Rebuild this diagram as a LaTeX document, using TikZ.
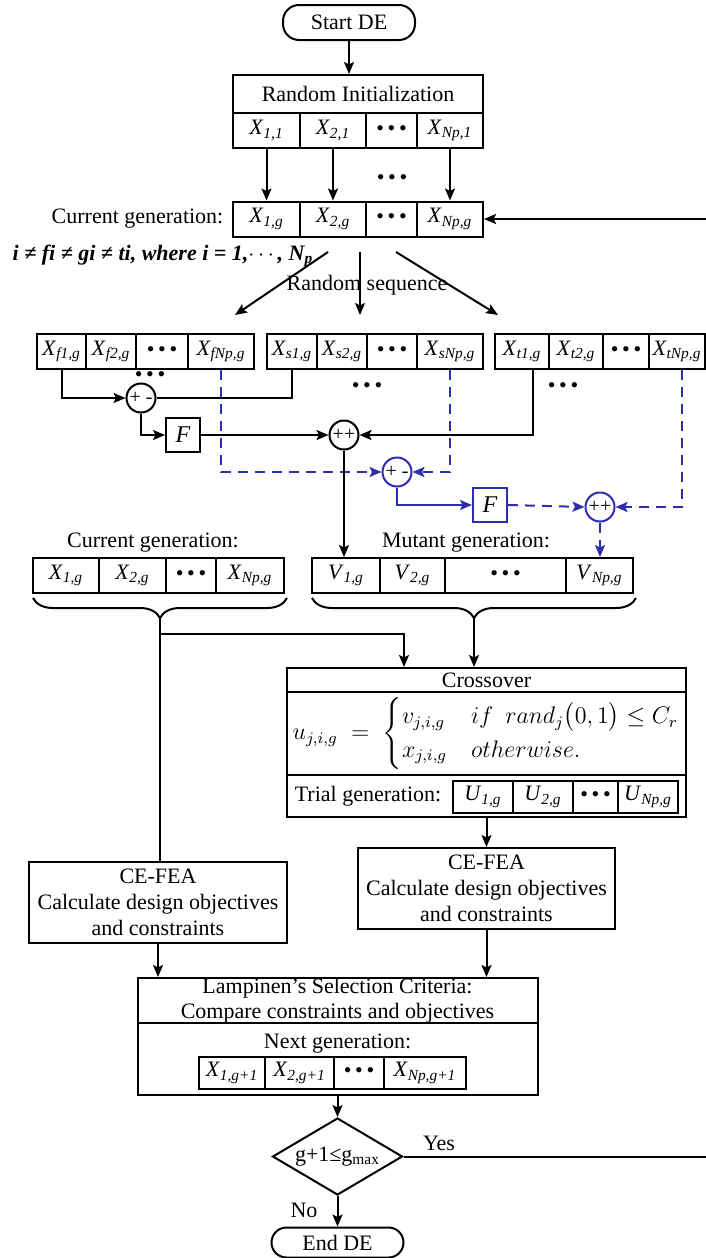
\documentclass[tikz,border=0pt]{standalone}
\usepackage{fontspec}
\setmainfont{Liberation Serif}
\usepackage{amsmath}
\usetikzlibrary{arrows.meta,shapes.geometric,decorations.pathreplacing}
\definecolor{mutblue}{RGB}{45,45,175}
\newcommand{\dotsrow}{\textbullet\,\textbullet\,\textbullet}
\newcommand{\sx}[2]{\textit{#1}\textsubscript{\textit{#2}}}

\begin{document}
\begin{tikzpicture}[
		x=0.5pt, y=-0.5pt, line width=1pt,
		>={Stealth[length=6pt,width=5pt,inset=1.2pt]},
		every node/.style={font=\fontsize{11}{13}\selectfont},
		cell/.style={draw, inner sep=0pt, minimum height=17.5pt},
		block/.style={draw, inner sep=0pt, align=center},
		terminal/.style={draw, rounded corners=8pt, minimum width=66pt, inner sep=0pt},
		adder/.style={draw, circle, minimum size=14.5pt, inner sep=0pt, font=\fontsize{10}{10}\selectfont},
		gain/.style={draw, minimum size=17pt, inner sep=0pt, font=\fontsize{12}{12}\selectfont\itshape},
		decision/.style={draw, diamond, aspect=1.7, minimum width=65pt, minimum height=38.5pt, inner sep=0pt},
		mutline/.style={mutblue, dash pattern=on 5pt off 3.5pt},
		groupbrace/.style={decorate, decoration={brace, mirror, amplitude=10pt}}
		]
		\useasboundingbox (0,0) rectangle (706,1258);
		
		% Start and random initialization
		\node[terminal, minimum height=17.5pt] (start) at (349,22.5) {Start DE};
		\node[block, minimum width=125pt, minimum height=19pt] (init) at (358,94) {Random Initialization};
		\node[cell, minimum width=33.5pt] (i1) at (266.5,130.5) {\sx{X}{1,1}};
		\node[cell, minimum width=33pt] (i2) at (333,130.5) {\sx{X}{2,1}};
		\node[cell, minimum width=25.5pt] (i3) at (391.5,130.5) {\dotsrow};
		\node[cell, minimum width=33pt] (i4) at (450,130.5) {\sx{X}{Np,1}};
		\draw[->] (start.south) -- (start.south |- init.north);
		
		% Current generation
		\node[cell, minimum width=33.5pt] (c1) at (266.5,219) {\sx{X}{1,g}};
		\node[cell, minimum width=33pt] (c2) at (333,219) {\sx{X}{2,g}};
		\node[cell, minimum width=25.5pt] (c3) at (391.5,219) {\dotsrow};
		\node[cell, minimum width=33pt] (c4) at (450,219) {\sx{X}{Np,g}};
		\node[anchor=east] (curlab) at (231,219) {Current generation:};
		\node (idots) at (392,180) {\dotsrow};
		\foreach \a/\b in {i1/c1, i2/c2, i4/c4} {
			\draw[->] (\a) -- (\b);
		}
		
		% Random sequence
		\node[anchor=west, font=\fontsize{11}{13}\selectfont\bfseries\itshape] (cond) at (5,256) {i ≠ fi ≠ gi ≠ ti, where i = 1,$\cdots$, N\textsubscript{p}};
		\node (rslab) at (367,285) {Random sequence};
		\coordinate (rsl) at (328,252);
		\coordinate (rsm) at (360,252);
		\coordinate (rsr) at (396,252);
		\coordinate (gl) at (235,315);
		\coordinate (gm) at (360,315);
		\coordinate (gr) at (498,315);
		\foreach \a/\b in {rsl/gl, rsm/gm, rsr/gr} {
			\draw[->] (\a) -- (\b);
		}
		
		% Three random vectors
		\node[cell, minimum width=24.5pt] (f1) at (61.5,351.5) {\sx{X}{f1,g}};
		\node[cell, minimum width=25pt] (f2) at (111,351.5) {\sx{X}{f2,g}};
		\node[cell, minimum width=26pt] (f3) at (162,351.5) {\dotsrow};
		\node[cell, minimum width=33pt] (f4) at (221,351.5) {\sx{X}{fNp,g}};
		\node[cell, minimum width=25pt] (s1) at (292,351.5) {\sx{X}{s1,g}};
		\node[cell, minimum width=25pt] (s2) at (342,351.5) {\sx{X}{s2,g}};
		\node[cell, minimum width=25pt] (s3) at (392,351.5) {\dotsrow};
		\node[cell, minimum width=33pt] (s4) at (450,351.5) {\sx{X}{sNp,g}};
		\node[cell, minimum width=27pt] (t1) at (522,351.5) {\sx{X}{t1,g}};
		\node[cell, minimum width=27pt] (t2) at (576,351.5) {\sx{X}{t2,g}};
		\node[cell, minimum width=23pt] (t3) at (626,351.5) {\dotsrow};
		\node[cell, minimum width=28pt] (t4) at (677,351.5) {\sx{X}{tNp,g}};
		\node (fdots) at (150,377) {\dotsrow};
		\node (sdots) at (367,388) {\dotsrow};
		\node (tdots) at (563,388) {\dotsrow};
		
		% Mutation of the first vector
		\node[adder] (d1) at (141,398) {+ -};
		\node[gain] (F1) at (183,435) {F};
		\node[adder] (a1) at (344,435) {++};
		\draw[->] (f1.south) |- (d1.west);
		\draw (s1.south) |- (d1.east);
		\draw[->] (d1.south) |- (F1.west);
		\draw[->] (F1.east) -- (a1.west);
		\draw[->] ([xshift=5.5pt]t1.south) |- (a1.east);
		
		% Mutation of the last vector
		\node[adder, draw=mutblue] (d2) at (397,472) {+ -};
		\node[gain, draw=mutblue] (F2) at (490,505) {F};
		\node[adder, draw=mutblue] (a2) at (600,507) {++};
		\draw[mutline, ->] (f4.south) |- (d2.west);
		\draw[mutline, ->] (s4.south) |- (d2.east);
		\draw[mutblue, ->] (d2.south) |- (F2.west);
		\draw[mutline, ->] (F2.east) -- (a2.west);
		\draw[mutline, ->] ([xshift=2.5pt]t4.south) |- (a2.east);
		
		% Current and mutant generations
		\node (curlab2) at (153,543) {Current generation:};
		\node (mutlab) at (466,543) {Mutant generation:};
		\node[cell, minimum width=33pt] (x1) at (66,575.5) {\sx{X}{1,g}};
		\node[cell, minimum width=33.5pt] (x2) at (132.5,575.5) {\sx{X}{2,g}};
		\node[cell, minimum width=25pt] (x3) at (191,575.5) {\dotsrow};
		\node[cell, minimum width=34pt] (x4) at (250,575.5) {\sx{X}{Np,g}};
		\node[cell, minimum width=34pt] (v1) at (346,575.5) {\sx{V}{1,g}};
		\node[cell, minimum width=32.5pt] (v2) at (412.5,575.5) {\sx{V}{2,g}};
		\node[cell, minimum width=60.5pt] (v3) at (505.5,575.5) {\dotsrow};
		\node[cell, minimum width=33.5pt] (v4) at (599.5,575.5) {\sx{V}{Np,g}};
		\draw[->] (a1.south) -- (a1.south |- v1.north);
		\draw[mutline, ->] (a2.south) -- (a2.south |- v4.north);
		\draw[groupbrace] (33,598) -- (287,598);
		\draw[groupbrace] (312,598) -- (636,598);
		\coordinate (bl) at (160,618);
		\coordinate (br) at (474,618);
		\coordinate (split) at (160,634);
		
		% Crossover
		\node[block, minimum width=199.5pt, minimum height=12pt] (ctitle) at (486.5,680) {Crossover};
		\node[block, minimum width=199.5pt, minimum height=41.5pt, font=\fontsize{12}{14}\selectfont] (cform) at (486.5,733.5) {$u_{j,i,g}\;=\;\begin{cases} v_{j,i,g} & if\ \ rand_j\bigl(0,1\bigr)\le C_r\\ x_{j,i,g} & otherwise.\end{cases}$};
		\node[block, minimum width=199.5pt, minimum height=21pt] (ctrial) at (486.5,796) {};
		\node (triallab) at (368,796) {Trial generation:};
		\node[cell, minimum width=30pt, minimum height=16pt] (u1) at (483,797) {\sx{U}{1,g}};
		\node[cell, minimum width=30pt, minimum height=16pt] (u2) at (543,797) {\sx{U}{2,g}};
		\node[cell, minimum width=22.5pt, minimum height=16pt] (u3) at (595.5,797) {\dotsrow};
		\node[cell, minimum width=30pt, minimum height=16pt] (u4) at (648,797) {\sx{U}{Np,g}};
		\draw[->] (br) -- (br |- ctitle.north);
		\draw (bl) -- (split);
		\draw[->] (split) -| ([xshift=-41.25pt]ctitle.north);
		
		% Evaluation
		\node[block, minimum width=129pt, minimum height=40.5pt] (lfea) at (158,902.5) {CE-FEA\\Calculate design objectives\\and constraints};
		\node[block, minimum width=128.5pt, minimum height=40.5pt] (rfea) at (486.5,888.5) {CE-FEA\\Calculate design objectives\\and constraints};
		\draw (split) -- (split |- lfea.north);
		\draw[->] (ctrial.south) -- (rfea.north);
		
		% Selection
		\node[block, minimum width=200pt, minimum height=22.5pt, font=\fontsize{11}{12.5}\selectfont] (lamp) at (337.5,1000.5) {Lampinen’s Selection Criteria:\\Compare constraints and objectives};
		\node[block, minimum width=200pt, minimum height=36pt] (nextbox) at (337.5,1059) {};
		\node (nextlab) at (337.5,1044) {Next generation:};
		\node[cell, minimum width=33pt, minimum height=16pt] (n1) at (232,1073) {\sx{X}{1,g+1}};
		\node[cell, minimum width=34.5pt, minimum height=16pt] (n2) at (299.5,1073) {\sx{X}{2,g+1}};
		\node[cell, minimum width=25pt, minimum height=16pt] (n3) at (359,1073) {\dotsrow};
		\node[cell, minimum width=41pt, minimum height=16pt] (n4) at (425,1073) {\sx{X}{Np,g+1}};
		\draw[->] (lfea.south) -- (lfea.south |- lamp.north);
		\draw[->] (rfea.south) -- (rfea.south |- lamp.north);
		
		% Stopping test
		\node[decision] (dec) at (337.5,1156.5) {g+1≤g\textsubscript{max}};
		\node[terminal, minimum height=15pt, rounded corners=7.5pt] (end) at (337.5,1242.5) {End DE};
		\node (yes) at (439,1143) {Yes};
		\node (no) at (304,1210) {No};
		\coordinate (loop) at (708,1156.5);
		\draw[->] (nextbox.south) -- (dec.north);
		\draw[->] (dec.south) -- (end.north);
		\draw[->] (dec.east) -- (loop) |- (c4.east);
		
	\end{tikzpicture}
\end{document}
